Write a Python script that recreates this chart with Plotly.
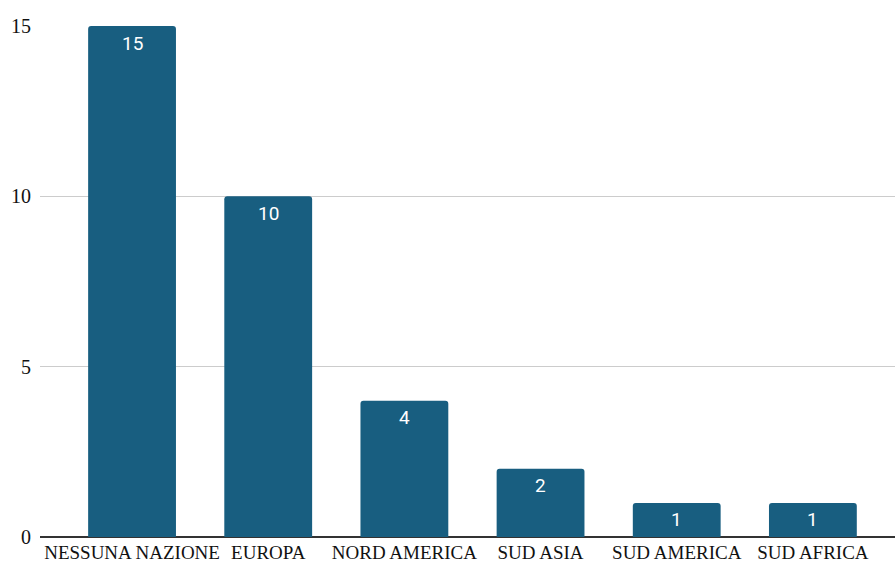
import plotly.graph_objects as go

# Regions and counts
categories = ["NESSUNA NAZIONE", "EUROPA", "NORD AMERICA", "SUD ASIA", "SUD AMERICA", "SUD AFRICA"]
counts = [15, 10, 4, 2, 1, 1]
y_ticks = [0, 5, 10, 15]

bar_color = "#185e80"

fig = go.Figure()
fig.add_trace(go.Bar(
    x=categories,
    y=counts,
    marker=dict(color=bar_color, cornerradius=3, line=dict(width=0)),
    width=0.645,
    hoverinfo="x+y",
))

# value labels just below each bar top
for cat, val in zip(categories, counts):
    fig.add_annotation(
        x=cat, y=val, text=str(val), showarrow=False,
        yanchor="middle", yshift=-17,
        font=dict(family="Roboto", size=19, color="white"),
    )

fig.update_layout(
    width=895, height=566,
    margin=dict(l=40, r=0, t=26, b=29),
    plot_bgcolor="white", paper_bgcolor="white",
    showlegend=False,
    xaxis=dict(
        range=[-0.676, 5.603],
        showgrid=False, zeroline=False, showline=False,
        ticks="", tickfont=dict(family="Liberation Serif", size=19, color="#111"),
        ticklabelstandoff=2,
    ),
    yaxis=dict(
        range=[0, 15], tickvals=y_ticks,
        showgrid=True, gridcolor="#cccccc", gridwidth=1,
        zeroline=True, zerolinecolor="#333333", zerolinewidth=1.5,
        showline=False, ticks="",
        tickfont=dict(family="Liberation Serif", size=20, color="#111"),
        ticklabelstandoff=8,
    ),
)

fig.write_html("out.html")
